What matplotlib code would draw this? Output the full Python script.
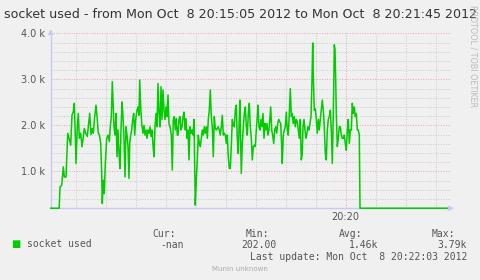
import numpy as np
import matplotlib
matplotlib.use("Agg")
import matplotlib.pyplot as plt
from matplotlib.ticker import FixedLocator, FuncFormatter

# seconds after 20:15:05 and sockets in use at that moment
secs = [0, 8.5, 9.3, 11.0, 12.6, 13.6, 15.3, 17.0, 18.6, 20.0, 21.3, 22.6, 23.6, 24.6, 25.3,
        26.6, 27.6, 28.6, 30.0, 31.3, 32.6, 33.6, 35.0, 36.6, 37.6, 39.0, 40.3, 41.6, 42.6,
        44.0, 45.3, 46.6, 47.6, 48.6, 50.0, 51.0, 51.6, 52.6, 53.6, 54.6, 56.0, 57.3, 58.6,
        59.6, 60.6, 61.6,
        63.3, 64.3, 65.3, 66.3, 67.3, 68.3, 69.3, 70.3, 71.3, 72.3, 73.3, 74.3, 75.3, 76.3,
        77.3, 78.3, 79.0, 80.0, 81.0, 82.0, 83.0, 84.0, 85.0, 86.3, 87.3, 88.3, 89.0, 90.0,
        91.0, 92.3, 93.3, 94.3, 95.3, 96.3, 97.3, 98.3, 99.3, 100.3, 101.3, 102.3, 103.3,
        104.3, 105.3, 106.3, 107.3, 108.3, 109.3, 110.3, 111.3, 112.3, 113.3, 114.3, 115.3,
        116.3, 117.3, 118.3, 119.3, 120.6, 121.6, 122.6, 123.6, 124.6, 125.6, 126.6,
        127.3, 128.3, 129.3, 130.3, 131.3, 132.3, 133.3, 134.3, 135.3, 136.3, 137.3, 138.3,
        139.3, 140.3, 141.3, 142.3, 143.3, 144.3, 144.6, 145.6, 146.6, 147.6, 148.6, 149.6,
        150.6, 151.6, 152.6, 153.6, 154.6, 155.6, 156.6, 157.6, 158.6, 159.6, 160.6, 161.6,
        162.6, 163.6, 164.6, 165.6, 166.6, 167.6, 168.6, 169.6, 170.6, 171.6, 172.6, 173.6,
        174.6, 175.6, 176.6, 177.6, 178.6, 179.6, 180.6, 181.6, 182.6, 183.6, 184.6, 185.6,
        186.6, 187.6, 188.6,
        189.3, 190.0, 190.6, 191.6, 192.6, 193.6, 194.6, 195.6, 196.6, 197.6, 198.6, 199.6,
        200.6, 201.6, 202.6, 203.6, 204.6, 205.6, 206.6, 207.3, 208.3, 209.3, 210.3, 211.3,
        212.3, 213.3, 214.3, 215.3, 216.3, 217.3, 218.3, 219.3, 220.0, 221.0, 222.0, 223.0,
        224.0, 225.0, 226.0, 227.0, 228.0, 229.0, 230.0, 231.0, 231.6, 232.6, 233.6, 234.6,
        235.6, 236.6, 237.6, 238.6, 239.6, 240.6, 241.6, 242.6, 243.6, 244.6, 245.6, 246.6,
        247.6, 248.6, 249.6, 250.6, 251.6,
        252.3, 253.3, 254.3, 255.3, 256.3, 257.3, 258.3, 259.3, 260.3, 261.3, 262.0, 262.6,
        263.6, 264.6, 265.6, 266.6, 267.6, 268.6, 269.6, 270.6, 271.6, 272.6, 273.6, 274.6,
        275.6, 276.6, 277.6, 278.6, 279.6, 280.6, 281.6, 282.3, 283.0, 283.6, 284.3, 285.0,
        285.6, 286.6, 287.6, 288.6, 289.6, 290.6, 291.6, 292.6, 293.6, 294.6, 295.6, 296.6,
        297.6, 298.6, 299.6, 300.6, 301.6, 302.6, 303.6, 304.6, 305.6, 306.6, 307.6, 308.6,
        309.3, 400]
sockets = [202, 202, 666, 700, 1100, 880, 880, 1826, 1700, 1570, 2224, 2300, 2480, 1800, 1174,
           1970, 2260, 1720, 1830, 1535, 1750, 1935, 1830, 1760, 1970, 2260, 1800, 1935, 1830,
           2190, 2440, 2130, 1830, 1800, 1610, 957, 304, 810, 520, 1170, 1720, 1790, 1650,
           1970, 2190, 2950,
           1970, 1790, 2260, 1320, 1900, 1390, 1065, 1900, 2510, 2190, 1720, 880, 1970, 1790,
           1540, 850, 1610, 1790, 1900, 2130, 2260, 1790, 2130, 2330, 2400, 2220, 2985, 2400,
           2040, 1830, 2000, 1790, 1900, 1720, 1900, 1830, 1970, 1760, 1900, 1570, 1320,
           1970, 2260, 1970, 2910, 2260, 1970, 2840, 2130, 2770, 2330, 2130, 2400,
           2190, 2660, 2040, 1970, 1790, 1030, 2130, 2190, 1900, 2150, 1790,
           1790, 2130, 2190, 1900, 1970, 2190, 2290, 1900, 2150, 1720, 1900, 1250,
           1970, 1830, 1900, 1790, 2130, 666, 270, 810, 1250, 1790, 1610, 1540,
           1720, 1900, 1790, 1970, 1830, 1970, 1720, 2130, 2330, 2770, 2190, 1970,
           1320, 2190, 1935, 1900, 1935, 1970, 1900, 1790, 1970, 2220, 1790, 1830,
           1790, 1610, 1790, 1320, 1065, 1065, 1540, 2130, 2000, 1970, 2330, 2440,
           1720, 1390, 2130,
           2550, 1610, 957, 1610, 1970, 2260, 2400, 1970, 1790, 2260, 2480, 1970,
           1720, 1250, 1540, 1570, 1540, 1900, 2190, 2440, 1970, 1900, 2130, 1970,
           2260, 1720, 2040, 1900, 2040, 1790, 1900, 2190, 2400, 1900, 1790, 1610,
           1900, 1970, 1830, 2040, 2130, 2080, 2040, 1540, 1174, 1790, 1900, 1970,
           2290, 1900, 1790, 2260, 2800, 2190, 2260, 2040, 2190, 1970, 2130, 2080,
           1900, 1720, 2130, 1250, 1390,
           1970, 2130, 1900, 1720, 1830, 1970, 1900, 2040, 2190, 2985, 3790, 3060,
           2330, 2360, 2130, 1830, 2130, 1900, 2130, 2330, 2550, 2330, 1970, 1390,
           1250, 1900, 2130, 2190, 2330, 1900, 1174, 1900, 2770, 3750, 3650, 2985,
           2260, 1540, 1720, 1970, 1970, 1790, 1720, 1720, 1790, 1610, 1460, 1900,
           2130, 1610, 1900, 1900, 2480, 2260, 2400, 2190, 2260, 1900, 1900, 1790,
           202, 202]

start_clock = 15 * 60 + 5   # 20:15:05, seconds after 20:00
span = 400                  # until 20:21:45
title = "socket used - from Mon Oct  8 20:15:05 2012 to Mon Oct  8 20:21:45 2012"
stats_head = ["Cur:", "Min:", "Avg:", "Max:"]
stats_vals = ["-nan", "202.00", "1.46k", "3.79k"]
last_update = "Last update: Mon Oct  8 20:22:03 2012"

bg = "#F0F0F0"
line_green = "#00CC00"
axis_blue = "#C8C8F0"
minor_col = "#C8C8C8"
major_col = "#E4A8A8"
txt = "#555555"

fig = plt.figure(figsize=(4.81, 2.80), dpi=100, facecolor=bg)
ax = fig.add_axes([50.7 / 481, 1 - 208.3 / 280, 400 / 481, 175 / 280], facecolor=bg)

ax.plot(secs, sockets, color=line_green, lw=1.1, zorder=3, clip_on=False)
ax.set_xlim(0, span)
ax.set_ylim(200, 4000)

# grid lines, rrdtool style
dots = (0, (1, 1.6))
for yv in range(400, 4001, 200):
    c = major_col if yv % 1000 == 0 else minor_col
    ax.axhline(yv, color=c, lw=0.7, ls=dots, zorder=1)
for clk in range((start_clock // 30 + 1) * 30, start_clock + span + 1, 30):
    c = major_col if clk % 300 == 0 else minor_col
    ax.axvline(clk - start_clock, color=c, lw=0.7, ls=dots, zorder=1)

ax.yaxis.set_major_locator(FixedLocator([1000, 2000, 3000, 4000]))
ax.yaxis.set_major_formatter(FuncFormatter(lambda v, p: "%.1f k" % (v / 1000)))
major_x = [((start_clock // 300) + 1) * 300 - start_clock]
ax.xaxis.set_major_locator(FixedLocator(major_x))
ax.xaxis.set_major_formatter(FuncFormatter(lambda v, p: "20:%02d" % ((v + start_clock) // 60)))
ax.tick_params(length=0, labelsize=7, colors=txt, pad=4)
ax.tick_params(axis="x", pad=3)

for s in ["top", "right"]:
    ax.spines[s].set_visible(False)
for s in ["left", "bottom"]:
    ax.spines[s].set_color(axis_blue)
    ax.spines[s].set_linewidth(1)
ax.annotate("", xy=(0, 1.04), xytext=(0, 0.98), xycoords="axes fraction",
            arrowprops=dict(arrowstyle="-|>", color=axis_blue, lw=1, mutation_scale=7))
ax.annotate("", xy=(1.015, 0), xytext=(0.99, 0), xycoords="axes fraction",
            arrowprops=dict(arrowstyle="-|>", color=axis_blue, lw=1, mutation_scale=7))

fig.text(240.5 / 481, 1 - 14 / 280, title, ha="center", va="center", fontsize=9.1, color="#333333")
fig.text(473 / 481, 1 - 56 / 280, "RRDTOOL / TOBI OETIKER", rotation=270, ha="center",
         va="center", fontsize=5.8, color="#BBBBBB")

# legend block
mono = "DejaVu Sans Mono"
leg_col = "#555555"
fig.text(16 / 481, 1 - 243.5 / 280, "\u25A0", ha="center", va="center", fontsize=7, color=line_green)
fig.text(27 / 481, 1 - 244 / 280, "socket used", ha="left", va="center", fontsize=7, family=mono, color=leg_col)
head_x = [176, 269, 362, 455]
val_x = [184, 277, 378, 467]
for hx, h in zip(head_x, stats_head):
    fig.text(hx / 481, 1 - 234 / 280, h, ha="right", va="center", fontsize=7, family=mono, color=leg_col)
for vx, v in zip(val_x, stats_vals):
    fig.text(vx / 481, 1 - 245.5 / 280, v, ha="right", va="center", fontsize=7, family=mono, color=leg_col)
fig.text(467 / 481, 1 - 257 / 280, last_update, ha="right", va="center", fontsize=7, family=mono, color=leg_col)
fig.text(240 / 481, 1 - 269 / 280, "Munin unknown", ha="center", va="center", fontsize=5, color="#AAAAAA")

fig.savefig("out.png", dpi=100, facecolor=bg)
